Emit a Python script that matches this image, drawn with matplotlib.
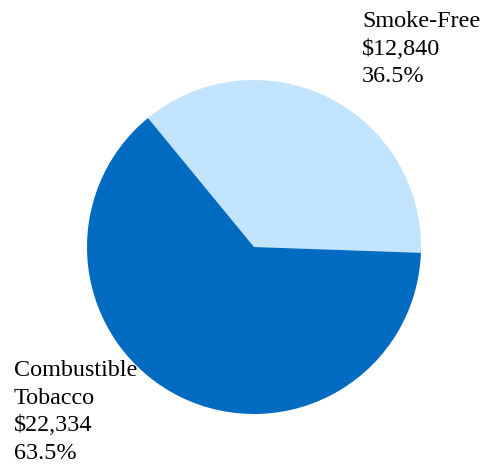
import matplotlib.pyplot as plt

segments = ["Smoke-Free", "Combustible\nTobacco"]
revenues = [12840, 22334]
colors = ["#C2E4FF", "#006BC0"]

W, H = 487, 477

fig = plt.figure(figsize=(W / 100, H / 100), dpi=100)
ax = fig.add_axes([0, 0, 1, 1])

total = sum(revenues)
ax.pie(revenues, colors=colors, startangle=-2, counterclock=True,
       center=(254, H - 248), radius=167,
       wedgeprops=dict(linewidth=0), frame=True)
ax.set_xlim(0, W)
ax.set_ylim(0, H)
ax.axis("off")

positions = [(362, H - 11), (14, H - 360)]
for name, val, (x, y) in zip(segments, revenues, positions):
    label = f"{name}\n${val:,}\n{val / total * 100:.1f}%"
    ax.text(x, y, label, ha="left", va="top", fontsize=17.4,
            family="Liberation Serif", color="black", linespacing=1.42)

fig.savefig("out.png", dpi=100)
